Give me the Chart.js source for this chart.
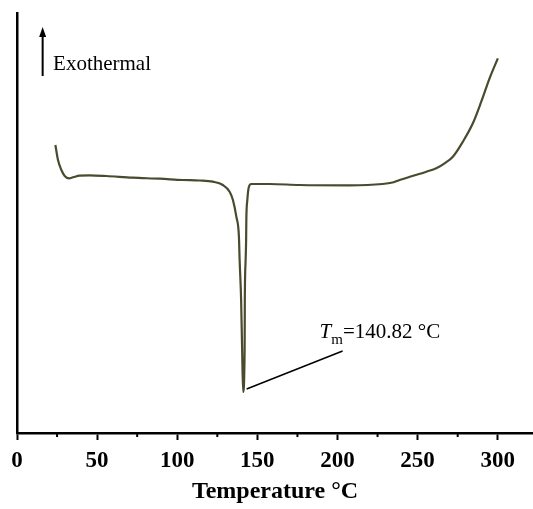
<!DOCTYPE html>
<html>
<head>
<meta charset="utf-8">
<title>DSC curve</title>
<script src="https://cdn.jsdelivr.net/npm/chart.js@4/dist/chart.umd.min.js"></script>
<style>
  html, body { margin: 0; padding: 0; background: #fff; }
  #dsc { display: block; }
</style>
</head>
<body>
<canvas id="dsc" width="533" height="509"></canvas>
<script>
// Data (heat flow in arbitrary units, exo up)
const temps = [23.95, 25.58, 27.7, 29.76, 32.44, 34.93, 39.11, 45.35, 55.77, 72.18, 89.02, 103.37, 113.97, 122.27, 128.51, 132.69, 134.75, 136.87, 138.49, 138.93, 139.86, 140.49, 141.11, 142.05, 142.17, 142.67, 142.98, 143.11, 143.73, 144.73, 146.23, 157.64, 176.36, 207.55, 228.13, 234.37, 238.74, 246.85, 255.4, 261.63, 266.81, 271.99, 278.23, 284.47, 289.71, 294.9, 300.06];
const heatFlow = [288, 273, 263, 257, 254.7, 255.7, 257.3, 257.7, 257, 255.3, 254.3, 253, 252.5, 251.3, 248, 241.3, 233, 216.3, 196.3, 173, 133, 83, 41, 83, 133, 173, 193, 213, 233, 246.3, 249, 249, 248, 247.7, 249, 250.5, 253, 257, 261.3, 264.7, 269.7, 276.3, 291.3, 309.7, 331.3, 354.7, 374.7];
const majorTicks = [0, 50, 100, 150, 200, 250, 300];
const minorTicks = [25, 75, 125, 175, 225, 275];
const peakLabel = "140.82 °C";

const serif = "'Liberation Serif', 'Times New Roman', serif";

// minor ticks, arrow and the melting point note
const notes = {
  id: "notes",
  afterDraw(chart) {
    const ctx = chart.ctx;
    const xs = chart.scales.x, ys = chart.scales.y;
    const bottom = chart.chartArea.bottom;
    ctx.save();
    ctx.strokeStyle = "#000";
    ctx.lineWidth = 2;
    minorTicks.forEach(v => {
      const px = xs.getPixelForValue(v);
      ctx.beginPath();
      ctx.moveTo(px, bottom);
      ctx.lineTo(px, bottom + 4);
      ctx.stroke();
    });

    // Exothermal arrow
    const ax = xs.getPixelForValue(16);
    const ay1 = ys.getPixelForValue(357), ay2 = ys.getPixelForValue(406);
    ctx.lineWidth = 2;
    ctx.beginPath();
    ctx.moveTo(ax, ay1);
    ctx.lineTo(ax, ay2 + 6);
    ctx.stroke();
    ctx.fillStyle = "#000";
    ctx.beginPath();
    ctx.moveTo(ax, ay2);
    ctx.lineTo(ax - 3.5, ay2 + 10);
    ctx.lineTo(ax + 3.5, ay2 + 10);
    ctx.closePath();
    ctx.fill();
    ctx.font = "21px " + serif;
    ctx.textBaseline = "alphabetic";
    ctx.fillText("Exothermal", xs.getPixelForValue(22.5), ys.getPixelForValue(363));

    // leader line to the peak
    ctx.lineWidth = 1.5;
    ctx.beginPath();
    ctx.moveTo(xs.getPixelForValue(143.3), ys.getPixelForValue(44));
    ctx.lineTo(xs.getPixelForValue(203.2), ys.getPixelForValue(82));
    ctx.stroke();

    let tx = xs.getPixelForValue(188.8);
    const ty = ys.getPixelForValue(95);
    ctx.font = "italic 21px " + serif;
    ctx.fillText("T", tx, ty);
    tx += ctx.measureText("T").width;
    ctx.font = "15px " + serif;
    ctx.fillText("m", tx, ty + 6);
    tx += ctx.measureText("m").width;
    ctx.font = "21px " + serif;
    ctx.fillText("=" + peakLabel, tx, ty);
    ctx.restore();
  }
};

new Chart(document.getElementById("dsc"), {
  type: "line",
  data: {
    datasets: [{
      data: temps.map((t, i) => ({ x: t, y: heatFlow[i] })),
      borderColor: "#4a4a2e",
      borderWidth: 2.2,
      pointRadius: 0,
      cubicInterpolationMode: "monotone",
      fill: false
    }]
  },
  options: {
    responsive: false,
    animation: false,
    layout: { padding: { left: 17, top: 13, right: 0, bottom: 0 } },
    plugins: {
      legend: { display: false },
      tooltip: { enabled: false }
    },
    scales: {
      x: {
        type: "linear",
        min: 0,
        max: 322,
        afterBuildTicks: s => { s.ticks = majorTicks.map(v => ({ value: v })); },
        afterFit: s => { s.height = 76; },
        grid: { drawOnChartArea: false, tickLength: 7, tickWidth: 2, tickColor: "#000" },
        border: { display: true, color: "#000", width: 2.5 },
        ticks: {
          color: "#000",
          padding: 7,
          maxRotation: 0,
          font: { family: serif, size: 23, weight: "bold" }
        },
        title: {
          display: true,
          text: "Temperature °C",
          color: "#000",
          padding: { top: 0, bottom: 3 },
          font: { family: serif, size: 24, weight: "bold" }
        }
      },
      y: {
        min: 0,
        max: 420,
        ticks: { display: false },
        grid: { display: false, drawTicks: false },
        border: { display: true, color: "#000", width: 2.5 }
      }
    }
  },
  plugins: [notes]
});
</script>
</body>
</html>
